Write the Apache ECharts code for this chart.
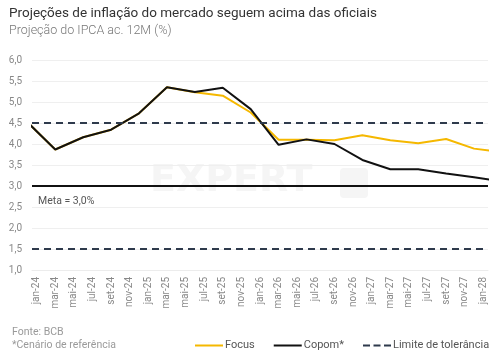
<!DOCTYPE html>
<html>
<head>
<meta charset="utf-8">
<script src="https://cdn.jsdelivr.net/npm/echarts@6/dist/echarts.min.js"></script>
<style>
html,body{margin:0;padding:0;background:#fff;}
#chart{width:502px;height:362px;}
</style>
</head>
<body>
<div id="chart"></div>
<script>
// Axis categories (monthly, labels every other month)
const axisMonths = ['jan-24','fev-24','mar-24','abr-24','mai-24','jun-24','jul-24','ago-24','set-24','out-24','nov-24','dez-24',
  'jan-25','fev-25','mar-25','abr-25','mai-25','jun-25','jul-25','ago-25','set-25','out-25','nov-25','dez-25',
  'jan-26','fev-26','mar-26','abr-26','mai-26','jun-26','jul-26','ago-26','set-26','out-26','nov-26','dez-26',
  'jan-27','fev-27','mar-27','abr-27','mai-27','jun-27','jul-27','ago-27','set-27','out-27','nov-27','dez-27',
  'jan-28'];
// Data points (quarterly)
const pointMonths = ['dez-23','mar-24','jun-24','set-24','dez-24','mar-25','jun-25','set-25','dez-25',
  'mar-26','jun-26','set-26','dez-26','mar-27','jun-27','set-27','dez-27','mar-28'];
const focusValues = [4.52, 3.87, 4.16, 4.34, 4.73, 5.35, 5.23, 5.15, 4.75, 4.10, 4.10, 4.09, 4.21, 4.09, 4.02, 4.12, 3.89, 3.81];
const copomValues = [4.52, 3.87, 4.16, 4.34, 4.73, 5.35, 5.24, 5.34, 4.83, 3.98, 4.11, 4.00, 3.62, 3.40, 3.40, 3.30, 3.21, 3.11];
const metaValue = 3.0;
const toleranceLimits = [4.5, 1.5];
const yTicks = [1.0, 1.5, 2.0, 2.5, 3.0, 3.5, 4.0, 4.5, 5.0, 5.5, 6.0];

const monthNames = ['jan','fev','mar','abr','mai','jun','jul','ago','set','out','nov','dez'];
function monthIndex(lbl){
  const [m, y] = lbl.split('-');
  return (parseInt(y,10) - 24) * 12 + monthNames.indexOf(m);
}
const focusData = pointMonths.map((m,i)=>[monthIndex(m), focusValues[i]]);
const copomData = pointMonths.map((m,i)=>[monthIndex(m), copomValues[i]]);

const FONT = 'Roboto';
const solidIcon = 'path://M0,0H28V2H0Z';
const dashIcon = 'path://M0,0H7V2H0Z M10.5,0H17.5V2H10.5Z M21,0H28V2H21Z';
const chart = echarts.init(document.getElementById('chart'), null, {renderer:'canvas'});
chart.setOption({
  backgroundColor: '#fff',
  animation: false,
  textStyle: {fontFamily: FONT},
  title: {
    text: 'Projeções de inflação do mercado seguem acima das oficiais',
    subtext: 'Projeção do IPCA ac. 12M (%)',
    left: 4, top: 2, itemGap: 3,
    textStyle: {fontFamily: FONT, fontSize: 13.5, fontWeight: 'normal', color: '#333'},
    subtextStyle: {fontFamily: FONT, fontSize: 12.5, fontWeight: 300, color: '#777'}
  },
  grid: {left: 32, right: 14, top: 60, bottom: 92, containLabel: false},
  xAxis: [{
    type: 'category',
    data: axisMonths,
    boundaryGap: true,
    axisLine: {show: true, lineStyle: {color: '#ececec'}},
    axisTick: {show: false},
    axisLabel: {rotate: 90, interval: 1, color: '#888', fontSize: 10, fontFamily: FONT, margin: 7},
    splitLine: {show: false}
  },{
    type: 'value',
    min: -0.5, max: 48.5,
    show: false
  }],
  yAxis: {
    type: 'value',
    min: yTicks[0], max: yTicks[yTicks.length-1], interval: 0.5,
    axisLine: {show: false},
    axisTick: {show: false},
    axisLabel: {color: '#888', fontSize: 10, fontFamily: FONT, margin: 10,
      formatter: v => v.toFixed(1).replace('.', ',')},
    splitLine: {lineStyle: {color: '#efefef', width: 1}}
  },
  legend: {
    left: 190, top: 335,
    itemWidth: 28, itemHeight: 10, itemGap: 19,
    symbolKeepAspect: true,
    textStyle: {fontFamily: FONT, fontSize: 11, color: '#555', padding: [0,0,0,-3]},
    data: [
      {name: 'Focus', icon: solidIcon},
      {name: 'Copom*', icon: solidIcon},
      {name: 'Limite de tolerância', icon: dashIcon}
    ]
  },
  graphic: [
    {type: 'text', left: 150, top: 162, z: 0, silent: true,
      style: {text: 'EXPERT', fontFamily: 'DejaVu Sans', fontWeight: 'bold', fontSize: 38, fill: '#f5f5f5'}},
    {type: 'rect', left: 340, top: 168, z: 0, silent: true,
      shape: {width: 28, height: 30, r: 4}, style: {fill: '#f5f5f5'}},
    {type: 'text', left: 12, top: 327, style: {text: 'Fonte: BCB', fontFamily: FONT, fontSize: 10.5, fill: '#9a9a9a'}},
    {type: 'text', left: 12, top: 340, style: {text: '*Cenário de referência', fontFamily: FONT, fontSize: 10.5, fill: '#9a9a9a'}}
  ],
  series: [
    {
      name: 'Focus', type: 'line', xAxisIndex: 1, data: focusData,
      symbol: 'none', clip: true, z: 3,
      lineStyle: {color: '#F5B800', width: 2},
      itemStyle: {color: '#F5B800'}
    },
    {
      name: 'Copom*', type: 'line', xAxisIndex: 1, data: copomData,
      symbol: 'none', clip: true, z: 4,
      lineStyle: {color: '#111', width: 2},
      itemStyle: {color: '#111'},
      markLine: {
        silent: true, symbol: 'none',
        lineStyle: {color: '#111', width: 2, type: 'solid'},
        label: {show: true, position: 'insideStartBottom', formatter: 'Meta = 3,0%',
          color: '#555', fontSize: 10.5, fontFamily: FONT, distance: [6, 10]},
        data: [{yAxis: metaValue}]
      }
    },
    {
      name: 'Limite de tolerância', type: 'line', xAxisIndex: 1, data: [],
      symbol: 'none', z: 2,
      lineStyle: {color: '#2E3A4C', width: 2, type: [7, 5]},
      itemStyle: {color: '#2E3A4C'},
      markLine: {
        silent: true, symbol: 'none',
        lineStyle: {color: '#2E3A4C', width: 2, type: [7, 5]},
        label: {show: false},
        data: toleranceLimits.map(v => ({yAxis: v}))
      }
    }
  ]
});
</script>
</body>
</html>
